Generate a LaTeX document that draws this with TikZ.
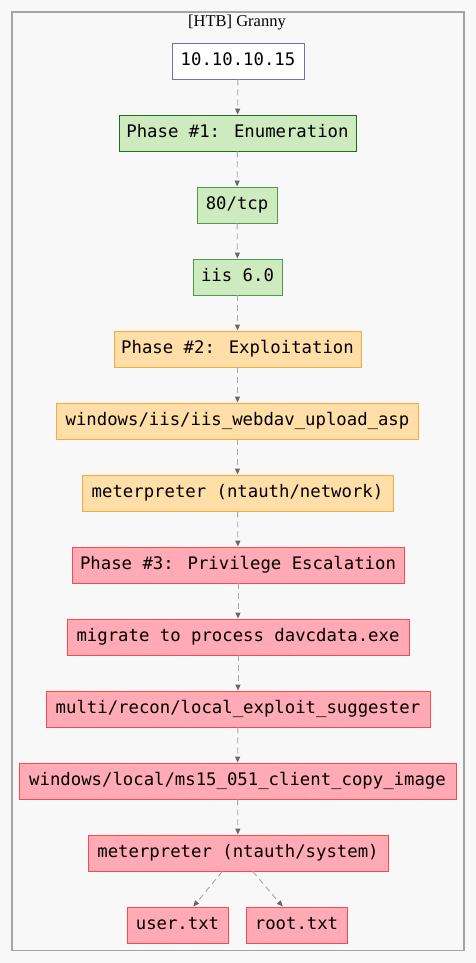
\documentclass[tikz,border=0pt]{standalone}
\usepackage{fontspec}
\usetikzlibrary{arrows.meta}
\newfontfamily\monofont{DejaVu Sans Mono}
\newfontfamily\titlefont{Liberation Serif}
\definecolor{bgc}{HTML}{F8F8F8}
\definecolor{clusterc}{HTML}{A6A4A2}
\definecolor{ipdraw}{HTML}{7070B8}
\definecolor{gfill}{HTML}{CEEBC0}
\definecolor{gdraw}{HTML}{4C9A4C}
\definecolor{gdarkdraw}{HTML}{1E6E1E}
\definecolor{ofill}{HTML}{FFDEA8}
\definecolor{odraw}{HTML}{FFA838}
\definecolor{rfill}{HTML}{FFAAB4}
\definecolor{rdraw}{HTML}{FF4848}
\definecolor{edgec}{HTML}{A8A8A8}
\definecolor{tipc}{HTML}{686868}
\tikzset{
  box/.style={rectangle, minimum height=36pt, inner sep=0pt, line width=0.9pt,
    text height=13.4pt, text depth=4pt,
    font=\monofont\fontsize{17.3}{20}\selectfont, text=black},
  ipbox/.style={box, draw=ipdraw, fill=white},
  phaseone/.style={box, draw=gdarkdraw, fill=gfill},
  gbox/.style={box, draw=gdraw, fill=gfill},
  obox/.style={box, draw=odraw, fill=ofill},
  rbox/.style={box, draw=rdraw, fill=rfill},
  edge/.style={draw=edgec, line width=0.9pt, dash pattern=on 6pt off 4pt,
    -{Triangle[length=6pt,width=5pt,color=tipc]}},
}
\begin{document}
\begin{tikzpicture}[x=1pt,y=-1pt]
\useasboundingbox (0,0) rectangle (476,963);
\fill[bgc] (0,0) rectangle (476,963);
\draw[clusterc, line width=1.4pt] (12,12) rectangle (464,950.5);
\node[font=\titlefont\fontsize{16.5}{19}\selectfont] (title) at (237,22.5) {[HTB] Granny};

\node[ipbox, minimum width=132pt] (ip) at (238,61) {10.10.10.15};
\node[phaseone, minimum width=237pt] (p1) at (237.5,133) {Phase \#1: Enumeration};
\node[gbox, minimum width=80pt] (tcp) at (237,205) {80/tcp};
\node[gbox, minimum width=89pt] (iis) at (237.5,277) {iis 6.0};
\node[obox, minimum width=247pt] (p2) at (237.5,349) {Phase \#2: Exploitation};
\node[obox, minimum width=362pt] (asp) at (237.5,421) {windows/iis/iis\_webdav\_upload\_asp};
\node[obox, minimum width=311pt] (mnet) at (237.5,493) {meterpreter (ntauth/network)};
\node[rbox, minimum width=332pt] (p3) at (238,565) {Phase \#3: Privilege Escalation};
\node[rbox, minimum width=342pt] (mig) at (238,637) {migrate to process davcdata.exe};
\node[rbox, minimum width=384pt] (les) at (238,709) {multi/recon/local\_exploit\_suggester};
\node[rbox, minimum width=437pt] (ms15) at (237.5,781) {windows/local/ms15\_051\_client\_copy\_image};
\node[rbox, minimum width=300pt] (msys) at (238,853) {meterpreter (ntauth/system)};
\node[rbox, minimum width=101pt] (user) at (177.5,925) {user.txt};
\node[rbox, minimum width=101pt] (root) at (296.5,925) {root.txt};

\draw[edge] (ip) -- (p1);
\draw[edge] (p1) -- (tcp);
\draw[edge] (tcp) -- (iis);
\draw[edge] (iis) -- (p2);
\draw[edge] (p2) -- (asp);
\draw[edge] (asp) -- (mnet);
\draw[edge] (mnet) -- (p3);
\draw[edge] (p3) -- (mig);
\draw[edge] (mig) -- (les);
\draw[edge] (les) -- (ms15);
\draw[edge] (ms15) -- (msys);
\draw[edge] ([xshift=-15.7pt]msys.south) -- ([xshift=15.8pt]user.north);
\draw[edge] ([xshift=14.7pt]msys.south) -- ([xshift=-13.8pt]root.north);
\end{tikzpicture}
\end{document}
